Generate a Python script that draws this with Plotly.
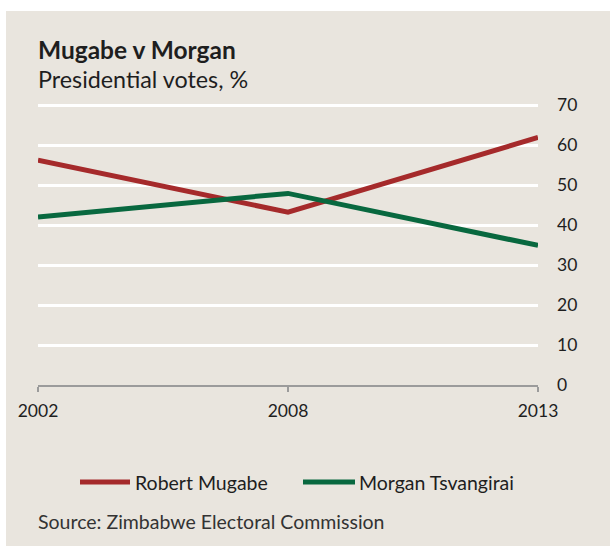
import plotly.graph_objects as go

# Presidential election results, share of votes (%)
years = ["2002", "2008", "2013"]
mugabe = [56.2, 43.2, 61.9]
tsvangirai = [42.0, 47.9, 34.9]
y_ticks = [0, 10, 20, 30, 40, 50, 60, 70]

RED = "#a52a2b"
GREEN = "#08683f"
BEIGE = "#e9e5de"
FONT = "Lato"
TEXT = "#1e1e1e"

W, H = 610, 546
# a little headroom above 70 so its gridline is drawn
L, R, T, B = 38, 72, 101, 161
PW, PH = W - L - R, H - T - B


def px_x(x):
    return (x - L) / PW


def px_y(y):
    return (H - B - y) / PH


fig = go.Figure()
fig.add_trace(go.Scatter(x=years, y=mugabe, mode="lines", name="Robert Mugabe",
                         line=dict(color=RED, width=5)))
fig.add_trace(go.Scatter(x=years, y=tsvangirai, mode="lines", name="Morgan Tsvangirai",
                         line=dict(color=GREEN, width=5)))

shapes = [
    # beige panel behind the whole chart
    dict(type="rect", xref="paper", yref="paper", layer="below",
         x0=px_x(6), x1=px_x(W + 5), y0=px_y(H + 5), y1=px_y(11),
         fillcolor=BEIGE, line=dict(width=0)),
    # legend keys
    dict(type="line", xref="paper", yref="paper",
         x0=px_x(80), x1=px_x(130), y0=px_y(482), y1=px_y(482),
         line=dict(color=RED, width=5)),
    dict(type="line", xref="paper", yref="paper",
         x0=px_x(303), x1=px_x(355), y0=px_y(482), y1=px_y(482),
         line=dict(color=GREEN, width=5)),
]

annotations = [
    dict(text="<b>Mugabe v Morgan</b>", x=px_x(36), y=px_y(50), xref="paper", yref="paper",
         xanchor="left", yanchor="middle", showarrow=False,
         font=dict(family=FONT, size=24.5, color=TEXT)),
    dict(text="Presidential votes, %", x=px_x(36), y=px_y(79), xref="paper", yref="paper",
         xanchor="left", yanchor="middle", showarrow=False,
         font=dict(family=FONT, size=23.3, color=TEXT)),
    dict(text="Robert Mugabe", x=px_x(133), y=px_y(482), xref="paper", yref="paper",
         xanchor="left", yanchor="middle", showarrow=False,
         font=dict(family=FONT, size=19.5, color=TEXT)),
    dict(text="Morgan Tsvangirai", x=px_x(357), y=px_y(482), xref="paper", yref="paper",
         xanchor="left", yanchor="middle", showarrow=False,
         font=dict(family=FONT, size=19.5, color=TEXT)),
    dict(text="Source: Zimbabwe Electoral Commission", x=px_x(36), y=px_y(521),
         xref="paper", yref="paper", xanchor="left", yanchor="middle", showarrow=False,
         font=dict(family=FONT, size=19.5, color="#333333")),
]

fig.update_layout(
    width=W, height=H,
    margin=dict(l=L, r=R, t=T, b=B, pad=0),
    paper_bgcolor="white",
    plot_bgcolor="rgba(0,0,0,0)",
    showlegend=False,
    shapes=shapes,
    annotations=annotations,
    font=dict(family=FONT, size=17, color=TEXT),
    xaxis=dict(
        type="category", range=[0, len(years) - 1],
        showgrid=False, zeroline=False,
        showline=True, linecolor="#9b9b9b", linewidth=2,
        ticks="outside", tickcolor="#9b9b9b", ticklen=5, tickwidth=2,
        tickfont=dict(family=FONT, size=17.5, color=TEXT),
        ticklabelstandoff=4,
    ),
    yaxis=dict(
        side="right", range=[0, 71], tickvals=y_ticks,
        showgrid=True, gridcolor="white", gridwidth=2.5,
        zeroline=False, showline=False, ticks="",
        tickfont=dict(family=FONT, size=17.5, color=TEXT),
        ticklabelstandoff=18,
    ),
)

fig.write_html("out.html")
